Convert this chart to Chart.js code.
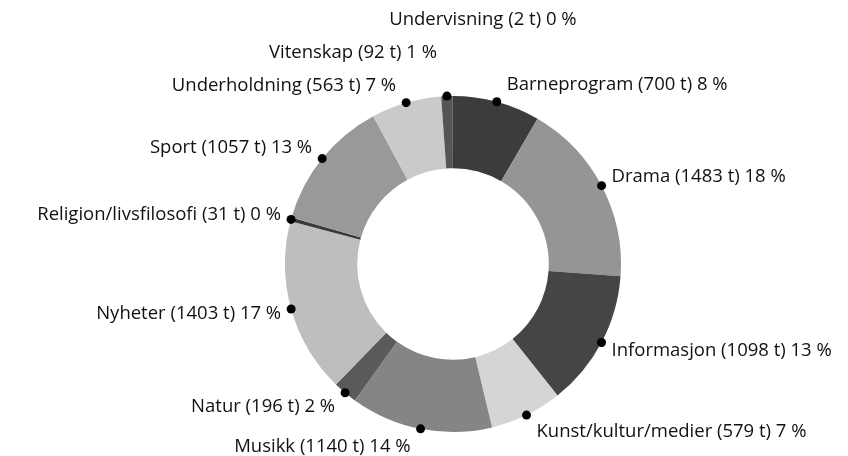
<!DOCTYPE html>
<html>
<head>
<meta charset="utf-8">
<script src="https://cdn.jsdelivr.net/npm/chart.js@4"></script>
<style>
  html, body { margin: 0; padding: 0; background: #fff; }
  #wrap { width: 848px; height: 456px; }
</style>
</head>
<body>
<div id="wrap"><canvas id="chart"></canvas></div>
<script>
const categories = ['Barneprogram', 'Drama', 'Informasjon', 'Kunst/kultur/medier', 'Musikk', 'Natur',
  'Nyheter', 'Religion/livsfilosofi', 'Sport', 'Underholdning', 'Vitenskap', 'Undervisning'];
const hours = [700, 1483, 1098, 579, 1140, 196, 1403, 31, 1057, 563, 92, 2];
const percents = [8, 18, 13, 7, 14, 2, 17, 0, 13, 7, 1, 0];
const colors = ['#3c3c3c', '#959595', '#454545', '#d5d5d5', '#858585', '#5a5a5a',
  '#bebebe', '#3a3a3a', '#999999', '#cacaca', '#555555', '#444444'];

// dots on the outer edge + labels beside them
const outsideLabels = {
  id: 'outsideLabels',
  afterDatasetsDraw(chart) {
    const ctx = chart.ctx;
    const arcs = chart.getDatasetMeta(0).data;
    const items = arcs.map((arc, i) => {
      const p = arc.getProps(['x', 'y', 'startAngle', 'endAngle', 'outerRadius'], true);
      const a = (p.startAngle + p.endAngle) / 2;
      const dx = p.x + Math.cos(a) * p.outerRadius;
      const dy = p.y + Math.sin(a) * p.outerRadius;
      const side = Math.cos(a) >= 0 ? 1 : -1;
      return {
        dx, dy, side,
        tiny: (p.endAngle - p.startAngle) < 0.005,
        lx: dx + side * 10,
        ly: dy + 18 * Math.sin(a),
        base: dy + 18 * Math.sin(a),
        align: side > 0 ? 'left' : 'right',
        text: categories[i] + ' (' + hours[i] + ' t) ' + percents[i] + ' %'
      };
    });

    // push crowded labels upwards, from bottom to top
    [-1, 1].forEach(s => {
      const list = items.filter(it => it.side === s).sort((a, b) => b.ly - a.ly);
      for (let k = 1; k < list.length; k++) {
        if (list[k].ly > list[k - 1].ly - 33) {
          list[k].ly = list[k - 1].ly - 33;
        }
      }
    });
    items.forEach(it => {
      if (it.base - it.ly > 45) {
        it.align = 'center';
        it.lx = it.dx + 30;
      }
    });

    ctx.save();
    items.forEach(it => {
      if (it.tiny) return;
      ctx.beginPath();
      ctx.arc(it.dx, it.dy, 4.5, 0, Math.PI * 2);
      ctx.fillStyle = '#000';
      ctx.fill();
    });
    ctx.font = '18.5px "Open Sans"';
    ctx.fillStyle = '#111';
    ctx.textBaseline = 'middle';
    items.forEach(it => {
      ctx.textAlign = it.align;
      ctx.fillText(it.text, it.lx, it.ly);
    });
    ctx.restore();
  }
};

new Chart(document.getElementById('chart'), {
  type: 'doughnut',
  data: {
    labels: categories,
    datasets: [{
      data: hours,
      backgroundColor: colors,
      borderWidth: 0
    }]
  },
  options: {
    responsive: true,
    maintainAspectRatio: false,
    animation: false,
    cutout: '57%',
    layout: { padding: { top: 96, bottom: 24, left: 285, right: 227 } },
    plugins: {
      legend: { display: false },
      tooltip: { enabled: false }
    }
  },
  plugins: [outsideLabels]
});
</script>
</body>
</html>
